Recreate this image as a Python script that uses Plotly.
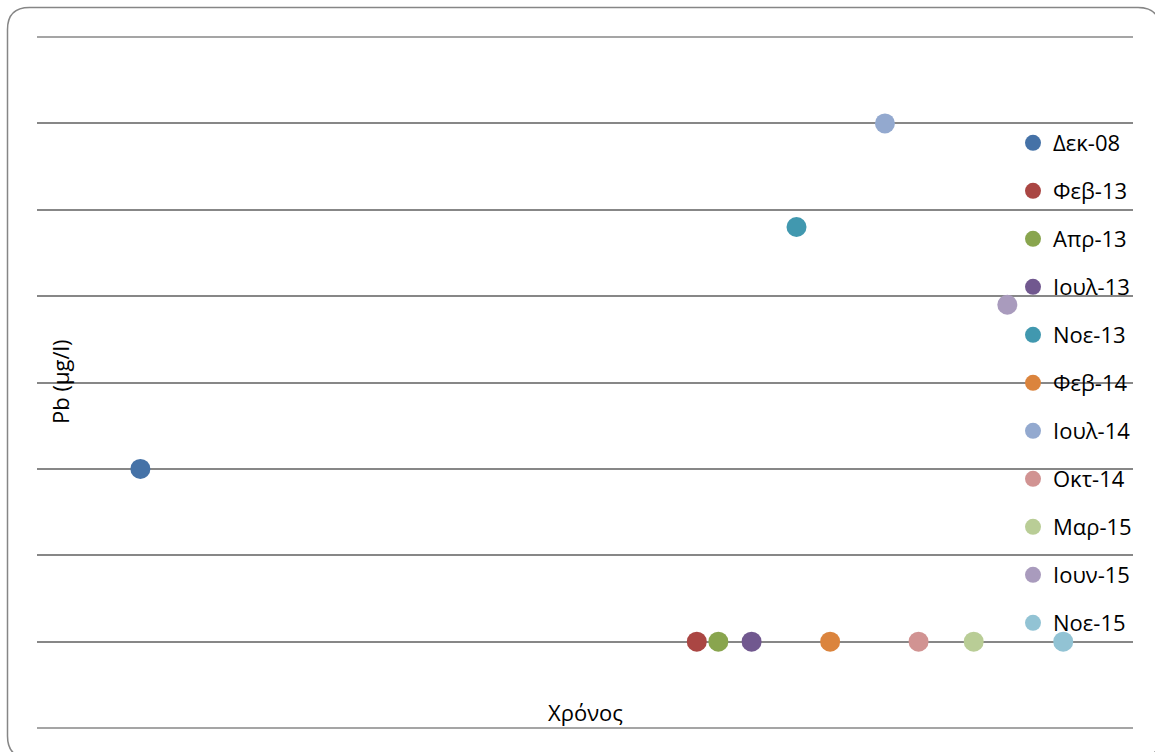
import plotly.graph_objects as go

# ---- data ----
labels = ["Δεκ-08", "Φεβ-13", "Απρ-13", "Ιουλ-13", "Νοε-13", "Φεβ-14",
          "Ιουλ-14", "Οκτ-14", "Μαρ-15", "Ιουν-15", "Νοε-15"]
dates = ["2008-12-01", "2013-02-01", "2013-04-01", "2013-07-01", "2013-11-01",
         "2014-02-01", "2014-07-01", "2014-10-01", "2015-03-01", "2015-06-01",
         "2015-11-01"]
pb_values = [3.0, 1.0, 1.0, 1.0, 5.8, 1.0, 7.0, 1.0, 1.0, 4.9, 1.0]
colors = ["#4572A7", "#AA4643", "#89A54E", "#71588F", "#4198AF", "#DB843D",
          "#93A9CF", "#D19392", "#B9CD96", "#A99BBD", "#92C3D4"]

W, H = 1155, 752
L, R, T, B = 37, 22, 37, 24
PW, PH = W - L - R, H - T - B

def px(x):
    return (x - L) / PW

def py(y):
    return (H - B - y) / PH

FONT = "Open Sans"
FS = 22
GRID = "#878787"

fig = go.Figure()
for i, (lab, d, v, c) in enumerate(zip(labels, dates, pb_values, colors)):
    fig.add_trace(go.Scatter(
        x=[d], y=[v], mode="markers", name=lab, legendgroup=f"g{i}",
        marker=dict(size=20, color=c, line=dict(width=0)),
    ))

# rounded chart border
x0, y0, x1, y1, r = 7.5, 7.5, 1160, 758, 22
path = (f"M {px(x0 + r)} {py(y0)} L {px(x1 - r)} {py(y0)} "
        f"Q {px(x1)} {py(y0)} {px(x1)} {py(y0 + r)} "
        f"L {px(x1)} {py(y1 - r)} Q {px(x1)} {py(y1)} {px(x1 - r)} {py(y1)} "
        f"L {px(x0 + r)} {py(y1)} Q {px(x0)} {py(y1)} {px(x0)} {py(y1 - r)} "
        f"L {px(x0)} {py(y0 + r)} Q {px(x0)} {py(y0)} {px(x0 + r)} {py(y0)} Z")
fig.add_shape(type="path", xref="paper", yref="paper", path=path,
              line=dict(color="#868686", width=1.5), layer="below")

# top and bottom gridlines (at the axis range ends)
for yy in (0, 1):
    fig.add_shape(type="line", xref="paper", yref="paper", x0=0, x1=1, y0=yy, y1=yy,
                  line=dict(color=GRID, width=1.5), layer="below")

fig.add_annotation(text="Pb (μg/l)", x=px(60), y=py(382), xref="paper", yref="paper",
                   xanchor="center", yanchor="middle",
                   textangle=-90, showarrow=False, font=dict(family=FONT, size=FS, color="#000"))
fig.add_annotation(text="Χρόνος", x=px(585), y=py(712), xref="paper", yref="paper",
                   xanchor="center", yanchor="middle",
                   showarrow=False, font=dict(family=FONT, size=FS, color="#000"))

fig.update_layout(
    width=W, height=H,
    margin=dict(l=L, r=R, t=T, b=B, autoexpand=False),
    paper_bgcolor="white", plot_bgcolor="white",
    font=dict(family=FONT, size=FS, color="#000"),
    showlegend=True,
    legend=dict(x=px(1013), y=py(122), xanchor="left", yanchor="top",
                bgcolor="rgba(0,0,0,0)", tracegroupgap=16.4,
                font=dict(family=FONT, size=FS, color="#000"),
                itemsizing="trace"),
    xaxis=dict(type="date", range=["2008-02-22", "2016-05-10"],
               showgrid=False, zeroline=False, showticklabels=False,
               showline=False, ticks=""),
    yaxis=dict(range=[0, 8], dtick=1, showgrid=True, gridcolor=GRID,
               gridwidth=1.5, zeroline=False, showticklabels=False,
               showline=False, ticks=""),
)

fig.write_html("out.html")
